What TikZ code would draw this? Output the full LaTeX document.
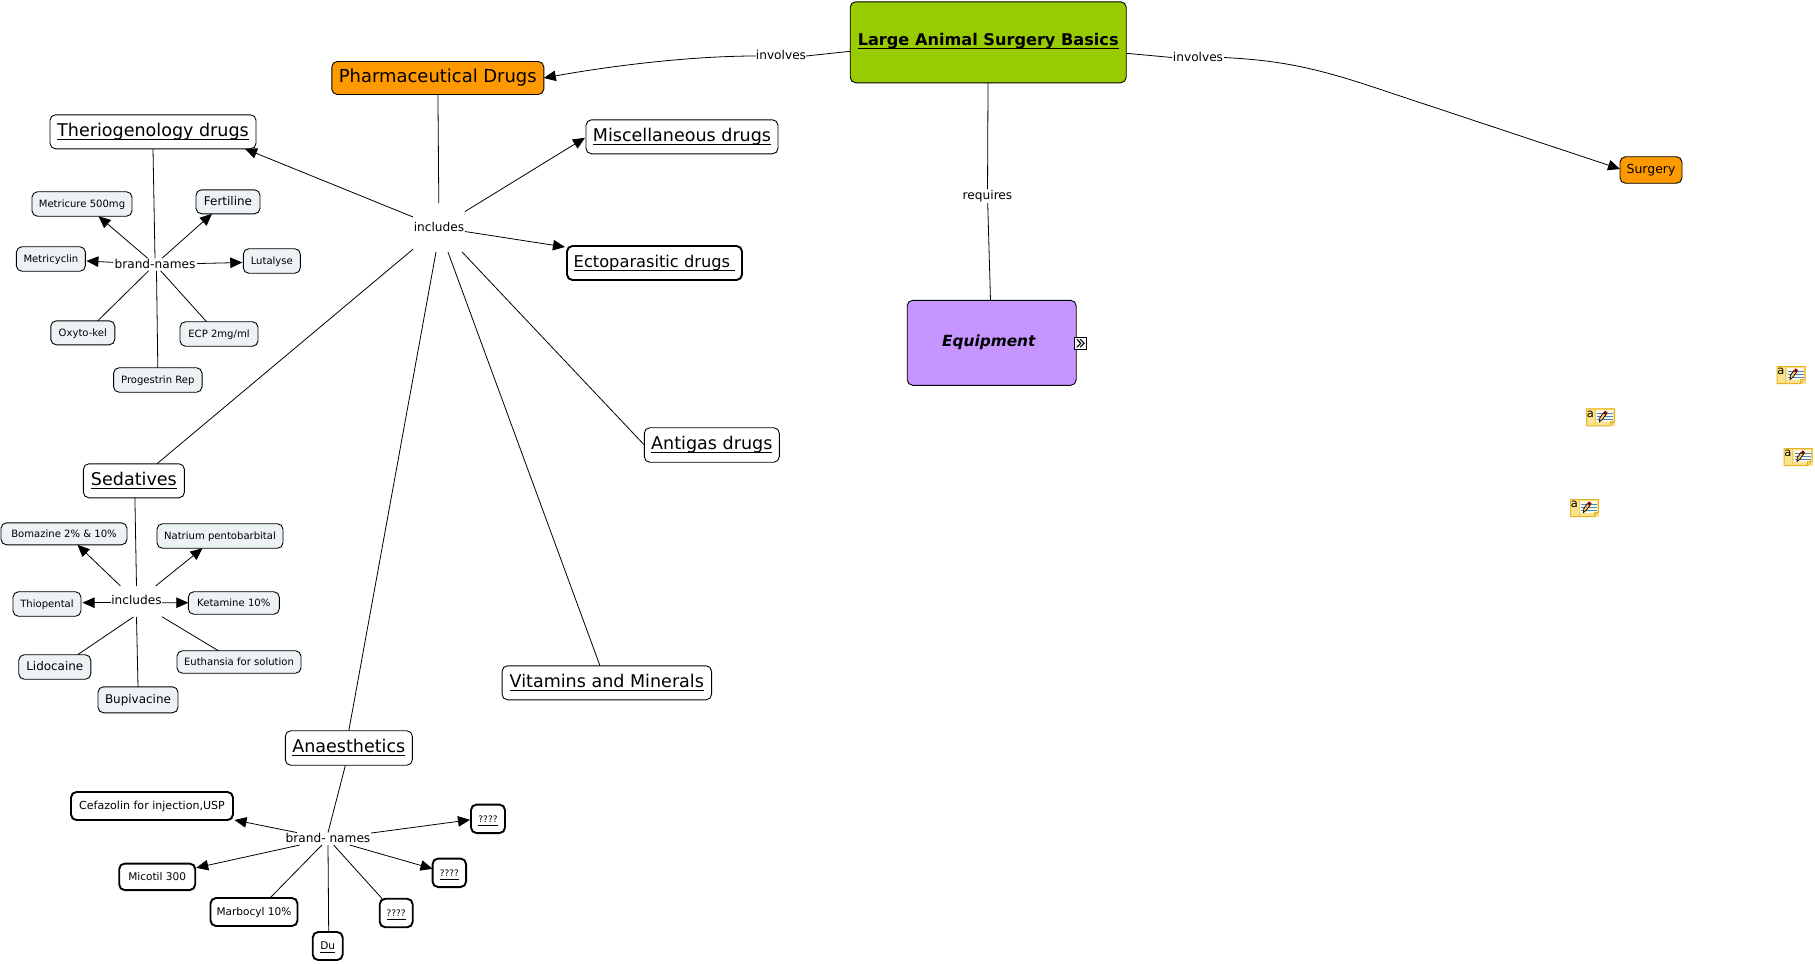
\documentclass[tikz,border=0pt]{standalone}
\usepackage{fontspec}
\setmainfont{DejaVu Sans}
\usetikzlibrary{arrows.meta}
\definecolor{orangeN}{HTML}{FF9900}
\definecolor{greenN}{HTML}{99CC00}
\definecolor{purpleN}{HTML}{C695FF}
\definecolor{paleN}{HTML}{EDF3F5}
\definecolor{noteF}{HTML}{FBE28C}
\definecolor{noteB}{HTML}{E6B422}
\definecolor{noteL}{HTML}{4A86C0}
\newcommand\ut[1]{\setbox0\hbox{#1}\leavevmode\rlap{\vrule width\wd0 height -2.4pt depth 3.4pt}\box0}
\newcommand\fz[1]{\fontsize{#1}{#1}\selectfont}
\tikzset{
  box/.style={draw=black,line width=.9bp,rounded corners=5.5bp,inner sep=0pt,outer sep=0pt,align=center,
     text height=.94em,text depth=.22em},
  sz/.style 2 args={minimum width=#1 bp,minimum height=#2 bp},
  large/.style={box,fill=white,font=\fz{17.6},text height=1.12em},
  pale/.style={box,fill=paleN,font=\fz{10.1}},
  paleb/.style={box,fill=paleN,font=\fz{12}},
  thick box/.style={box,fill=white,line width=1.9bp,font=\fz{10.6}},
  lab/.style={inner sep=0pt,outer sep=0pt,font=\fz{12.2},text height=.94em,text depth=.22em},
  lin/.style={draw=black,line width=.8bp},
  arr/.style={lin,-{Triangle[length=12bp,width=10.5bp]}},
  noteicon/.pic={
    \fill[noteF] (0,0) rectangle (29,18);
    \fill[white!80!noteF] (10,2) rectangle (27,14);
    \draw[noteB,line width=1bp] (0.5,0.5) -- (28.5,0.5) -- (28.5,13) -- (24,17.5) -- (0.5,17.5) -- cycle;
    \draw[noteB,line width=.7bp] (24,17.5) -- (24,13) -- (28.5,13);
    \draw[noteB!70!white,line width=.5bp] (9,1) -- (9,17);
    \draw[noteL,line width=.8bp] (11,5) -- (27,5) (11,8) -- (27,8) (11,11) -- (27,11);
    \filldraw[draw=black,fill=noteF!70!orange,line width=.7bp] (13.5,13.5) -- (13.8,9.5) -- (17.5,4.5) -- (20,6.2) -- (16.3,11.3) -- cycle;
    \fill[red!55!black] (17.3,4.7) -- (19,2.4) -- (21.6,4.2) -- (20,6.4) -- cycle;
    \node[inner sep=0pt,font=\fz{11.5}] at (4.4,5.6) {a};
  }
}
\begin{document}
\begin{tikzpicture}[x=1bp,y=-1bp]
\useasboundingbox (0,0) rectangle (1815,963);
% top level
\node[box,fill=greenN,sz={276}{81},font=\fz{16.2}\bfseries] (las) at (988.2,42.3) {\ut{Large Animal Surgery Basics}};
\node[box,fill=orangeN,sz={212}{33},font=\fz{18},text height=1.04em] (ph) at (437.8,78) {Pharmaceutical Drugs};
\node[box,fill=purpleN,sz={169}{85},font=\fz{15.4}\bfseries\itshape,text height=1.04em] (eq) at (991.7,342.8) {Equipment\hspace{5.8bp}};
\node[box,fill=orangeN,sz={62}{26.5},font=\fz{12.5}] (su) at (1651,170) {Surgery};
\node[lab,minimum width=50bp,minimum height=14bp] (inv1) at (781,56) {involves};
\node[lab,minimum width=52bp,minimum height=14bp] (inv2) at (1198,57.5) {involves};
\node[lab,minimum width=48bp,minimum height=14bp] (req) at (987.5,196) {requires};
% drug classes
\node[large,sz={206}{34}] (th) at (153,131.8) {\ut{Theriogenology drugs}};
\node[large,sz={192}{34}] (mi) at (682,136.8) {\ut{Miscellaneous drugs}};
\node[large,line width=1.9bp,font=\fz{16.3},sz={175}{34}] (ec) at (654.5,263) {\ut{Ectoparasitic drugs\ }};
\node[large,sz={135}{34.5}] (an) at (711.8,445) {\ut{Antigas drugs}};
\node[large,sz={101}{34}] (se) at (133.9,480.8) {\ut{Sedatives}};
\node[large,sz={209.5}{34}] (vi) at (606.8,682.8) {\ut{Vitamins and Minerals}};
\node[large,sz={127}{34.5}] (ane) at (348.8,748) {\ut{Anaesthetics}};
\node[lab,minimum width=52bp,minimum height=49bp] (inc) at (439,227.5) {includes};
% theriogenology group
\node[lab,minimum width=84bp,minimum height=12.5bp] (bn) at (155,264.5) {brand-names};
\node[pale,sz={100}{24.5}] (mc) at (82,204) {Metricure 500mg};
\node[paleb,sz={64}{24}] (fe) at (228,201.8) {Fertiline};
\node[pale,sz={69}{24.5}] (my) at (50.9,259) {Metricyclin};
\node[pale,sz={57}{24.5}] (lu) at (271.8,261) {Lutalyse};
\node[pale,sz={64}{24}] (ox) at (82.8,332.8) {Oxyto-kel};
\node[pale,sz={78}{24.5}] (ecp) at (219,334) {ECP 2mg/ml};
\node[pale,sz={88.5}{24.5}] (pr) at (157.8,380) {Progestrin Rep};
% sedatives group
\node[lab,minimum width=51bp,minimum height=31bp] (in2) at (136.5,601.4) {includes};
\node[pale,sz={126}{22}] (bo) at (64,533.8) {Bomazine 2\% \& 10\%};
\node[pale,sz={126}{24.5}] (na) at (220,536) {Natrium pentobarbital};
\node[pale,sz={68}{24.5}] (ti) at (47,604) {Thiopental};
\node[pale,sz={91}{22.5}] (ke) at (233.8,603) {Ketamine 10\%};
\node[paleb,sz={72}{24.5}] (li) at (54.8,667) {Lidocaine};
\node[pale,sz={124}{22.5}] (eu) at (239,662) {Euthansia for solution};
\node[paleb,sz={80}{26}] (bu) at (138,699.8) {Bupivacine};
% anaesthetics group
\node[lab,minimum width=86bp,minimum height=12.5bp] (bn2) at (328,838.8) {brand- names};
\node[thick box,font=\fz{11.1},sz={162}{28}] (ce) at (152,806) {Cefazolin for injection,USP};
\node[thick box,font=\fz{9},sz={34}{28.5}] (qa) at (488,818.8) {\ut{????}};
\node[thick box,font=\fz{9},sz={33.5}{28.5}] (qb) at (449.3,872.8) {\ut{????}};
\node[thick box,font=\fz{9},sz={33}{28.5}] (qc) at (396.2,913) {\ut{????}};
\node[thick box,sz={76}{26.5}] (mo) at (157.2,876.8) {Micotil 300};
\node[thick box,sz={87}{28}] (ma) at (254,912) {Marbocyl 10\%};
\node[thick box,sz={30}{28}] (du) at (327.7,946) {\ut{Du}};
% expand icon
\node[draw=black,fill=white,line width=.9bp,minimum size=11.5bp,inner sep=0pt,outer sep=0pt] (ei) at (1080.5,343.3) {};
\draw[black,line width=1.1bp] ([xshift=-3.6bp,yshift=4bp]ei.center) -- ([xshift=.2bp]ei.center) -- ([xshift=-3.6bp,yshift=-4bp]ei.center);
\draw[black,line width=1.1bp] ([xshift=-.4bp,yshift=4bp]ei.center) -- ([xshift=3.6bp]ei.center) -- ([xshift=-.4bp,yshift=-4bp]ei.center);
% connectors, top
\draw[lin] ([yshift=-9bp]las.west) -- (inv1.east);
\draw[arr] (inv1.west) .. controls (690,56) and (610,66) .. (ph.east);
\draw[lin] ([yshift=-11bp]las.east) -- (inv2.west);
\draw[arr] (inv2.east) .. controls (1271,60) and (1306,65) .. (1367,85) -- ([yshift=1bp]su.west);
\draw[lin] (las) -- (req);
\draw[lin] (req) -- (eq);
\draw[lin] (ph) -- (inc);
\draw[arr] (inc) -- ([xshift=92bp]th.south);
\draw[arr] (inc) -- ([yshift=-1bp,xshift=-1bp]mi.west);
\draw[arr] (inc) -- ([xshift=-2bp,yshift=-1bp]ec.north west);
\draw[lin] (inc) -- ([xshift=23bp]se.north);
\draw[lin] ([xshift=-3bp]inc.south) -- (ane.north);
\draw[lin] (inc) -- ([xshift=-6.8bp]vi.north);
\draw[lin] (inc) -- (an.west);
% connectors, theriogenology
\draw[lin] (th.south) -- (bn.north);
\draw[lin] ([xshift=1.5bp]bn.south) -- (pr.north);
\draw[arr] (bn) -- ([xshift=16.5bp]mc.south);
\draw[arr] (bn) -- ([xshift=-16bp]fe.south);
\draw[arr] (bn) -- ([xshift=1bp,yshift=-2bp]my.east);
\draw[arr] (bn) -- ([yshift=-1.5bp,xshift=-1bp]lu.west);
\draw[lin] (bn) -- ([xshift=15bp]ox.north);
\draw[lin] (bn) -- ([xshift=-12.4bp]ecp.north);
% connectors, sedatives
\draw[lin] ([xshift=1bp]se.south) -- (in2.north);
\draw[arr] (in2) -- ([xshift=13.5bp]bo.south);
\draw[arr] (in2) -- ([xshift=-17.5bp]na.south);
\draw[arr] ([yshift=-1.3bp]in2.west) -- ([xshift=1.5bp,yshift=1.3bp]ti.east);
\draw[arr] ([yshift=-1.3bp]in2.east) -- ([yshift=.3bp]ke.west);
\draw[lin] ([xshift=-3bp]in2.south) -- ([xshift=22.8bp]li.north);
\draw[lin] (in2) -- ([xshift=-20.6bp]eu.north);
\draw[lin] (in2.south) -- (bu.north);
% connectors, anaesthetics
\draw[lin] ([xshift=-3.4bp]ane.south) -- (bn2.north);
\draw[arr] (bn2) -- ([xshift=1.5bp]ce.south east);
\draw[arr] (bn2) -- ([xshift=1bp,yshift=9bp]mo.east);
\draw[arr] (bn2) -- ([xshift=-1bp,yshift=-1bp]qa.west);
\draw[arr] (bn2) -- ([yshift=4bp]qb.west);
\draw[lin] (bn2) -- ([xshift=-14bp]qc.north);
\draw[lin] (bn2) -- ([xshift=16bp]ma.north);
\draw[lin] (bn2.south) -- ([xshift=1bp]du.north);
% note icons
\pic at (1776.5,366) {noteicon};
\pic at (1586,408.3) {noteicon};
\pic at (1783.5,448) {noteicon};
\pic at (1570,499) {noteicon};
\end{tikzpicture}
\end{document}
